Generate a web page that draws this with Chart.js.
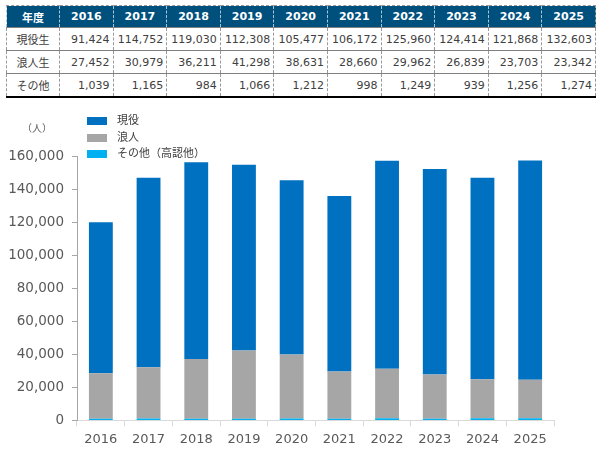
<!DOCTYPE html>
<html>
<head>
<meta charset="utf-8">
<script src="https://cdn.jsdelivr.net/npm/chart.js@4.4.1/dist/chart.umd.min.js"></script>
<style>
  body { margin: 0; background: #fff; font-family: "DejaVu Sans", "Noto Sans CJK JP", sans-serif; }
  #tbl { position: absolute; left: 6px; top: 5px; width: 590px; border-collapse: collapse; table-layout: fixed; font-size: 11px; color: #404040; }
  #tbl th { background: #00507e; color: #fff; font-weight: bold; height: 21px; padding: 0; border-left: 1px dashed #b0c4d4; border-top: 1px dashed #999; }
  #tbl td { height: 22px; text-align: right; padding: 0 3px 0 0; border-left: 1px dashed #999; border-top: 1px solid #7f7f7f; }
  #tbl td.lab { text-align: center; padding: 0; }
  #tbl tr:last-child td { border-bottom: 2px solid #000; }
  #tbl tr > *:last-child { border-right: 1px dashed #999; }
  #wrap { position: absolute; left: 0; top: 100px; width: 600px; height: 352px; }
  #unit { position: absolute; left: 22px; top: 120px; font-size: 10px; color: #595959; }
  #legend { position: absolute; left: 87px; top: 113px; font-size: 11px; color: #404040; }
  #legend div { height: 16.5px; line-height: 16px; }
  #legend span { display: inline-block; width: 20px; height: 8px; margin-right: 10px; vertical-align: -1px; }
</style>
</head>
<body>
<table id="tbl"></table>
<div id="wrap"><canvas id="myChart"></canvas></div>
<div id="unit">（人）</div>
<div id="legend"></div>
<script>
const years = ['2016', '2017', '2018', '2019', '2020', '2021', '2022', '2023', '2024', '2025'];
const genekiVals = [91424, 114752, 119030, 112308, 105477, 106172, 125960, 124414, 121868, 132603];
const roninVals = [27452, 30979, 36211, 41298, 38631, 28660, 29962, 26839, 23703, 23342];
const sonotaVals = [1039, 1165, 984, 1066, 1212, 998, 1249, 939, 1256, 1274];
const yTicks = [0, 20000, 40000, 60000, 80000, 100000, 120000, 140000, 160000];

// table
const tbl = document.getElementById('tbl')
let html = '<tr><th style="width:52px">年度</th>' + years.map(y => '<th>' + y + '</th>').join('') + '</tr>'
const rows = [['現役生', genekiVals], ['浪人生', roninVals], ['その他', sonotaVals]]
rows.forEach(r => {
  html += '<tr><td class="lab">' + r[0] + '</td>' + r[1].map(v => '<td>' + v.toLocaleString('en-US') + '</td>').join('') + '</tr>'
})
tbl.innerHTML = html

const datasets = [
  { label: 'その他（高認他）', data: sonotaVals, backgroundColor: '#00b0f0' },
  { label: '浪人', data: roninVals, backgroundColor: '#a6a6a6' },
  { label: '現役', data: genekiVals, backgroundColor: '#0070c0' }
]

// legend (top item = top of stack)
document.getElementById('legend').innerHTML = datasets.slice().reverse()
  .map(d => '<div><span style="background:' + d.backgroundColor + '"></span>' + d.label + '</div>').join('')

const ctx = document.getElementById('myChart')
new Chart(ctx, {
  type: 'bar',
  data: {
    labels: years,
    datasets: datasets.map(d => Object.assign({ barPercentage: 0.5, categoryPercentage: 1 }, d))
  },
  options: {
    responsive: true,
    maintainAspectRatio: false,
    animation: false,
    layout: { padding: { top: 56, right: 46, left: 0, bottom: 0 } },
    plugins: { legend: { display: false }, tooltip: { enabled: false } },
    scales: {
      x: {
        stacked: true,
        grid: { offset: true, drawOnChartArea: false, tickLength: 6, color: '#d9d9d9' },
        border: { color: '#d9d9d9' },
        ticks: { color: '#595959', font: { family: 'DejaVu Sans', size: 13 }, padding: 5 }
      },
      y: {
        stacked: true,
        min: 0,
        max: 160000,
        afterFit: s => { s.width = 77 },
        afterBuildTicks: s => { s.ticks = yTicks.map(v => ({ value: v })) },
        grid: { drawOnChartArea: false, tickLength: 5, color: '#a6a6a6' },
        border: { color: '#a6a6a6' },
        ticks: {
          color: '#595959',
          font: { family: 'DejaVu Sans', size: 13.5 },
          padding: 8,
          callback: v => v.toLocaleString('en-US')
        }
      }
    }
  }
})
</script>
</body>
</html>
